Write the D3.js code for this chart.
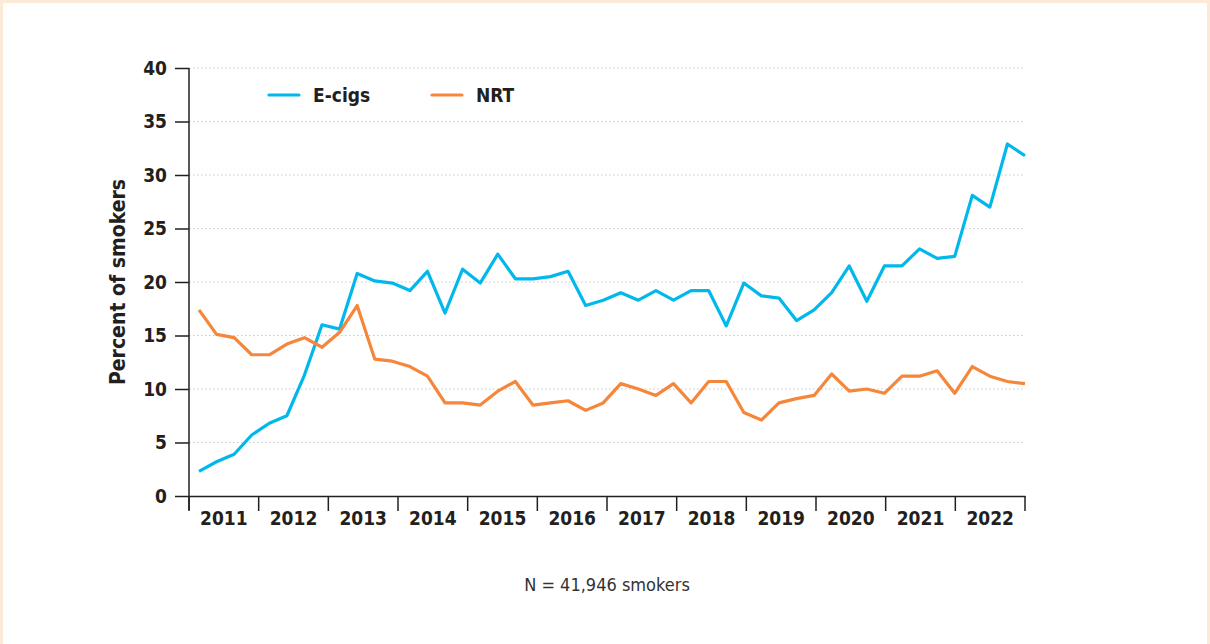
<!DOCTYPE html>
<html>
<head>
<meta charset="utf-8">
<script src="https://cdn.jsdelivr.net/npm/d3@7"></script>
<style>
  html, body { margin: 0; padding: 0; background: #fde9d7; }
  .frame { position: absolute; left: 3px; top: 3px; width: 1204px; height: 641px; background: #fff; }
  svg { position: absolute; left: 0; top: 0; }
  text { font-family: "DejaVu Sans Condensed", "DejaVu Sans", sans-serif; font-stretch: condensed; fill: #231f20; }
</style>
</head>
<body>
<div class="frame"></div>
<div class="chart"></div>
<script>
// 年ラベル
const years = ["2011","2012","2013","2014","2015","2016","2017","2018","2019","2020","2021","2022"];
const yTicks = [0, 5, 10, 15, 20, 25, 30, 35, 40];

// 四半期ごとの値 (2011Q1 - 2022Q4)
const ecigs = [2.3, 3.2, 3.9, 5.7, 6.8, 7.5, 11.3, 16.0, 15.6, 20.8, 20.1, 19.9,
               19.2, 21.0, 17.1, 21.2, 19.9, 22.6, 20.3, 20.3, 20.5, 21.0, 17.8, 18.3,
               19.0, 18.3, 19.2, 18.3, 19.2, 19.2, 15.9, 19.9, 18.7, 18.5, 16.4, 17.4,
               19.0, 21.5, 18.2, 21.5, 21.5, 23.1, 22.2, 22.4, 28.1, 27.0, 32.9, 31.8];
const nrt   = [17.4, 15.1, 14.8, 13.2, 13.2, 14.2, 14.8, 13.9, 15.3, 17.8, 12.8, 12.6,
               12.1, 11.2, 8.7, 8.7, 8.5, 9.8, 10.7, 8.5, 8.7, 8.9, 8.0, 8.7,
               10.5, 10.0, 9.4, 10.5, 8.7, 10.7, 10.7, 7.8, 7.1, 8.7, 9.1, 9.4,
               11.4, 9.8, 10.0, 9.6, 11.2, 11.2, 11.7, 9.6, 12.1, 11.2, 10.7, 10.5];

const series = [
    { name: "E-cigs", values: ecigs, color: "#00b8ec" },
    { name: "NRT", values: nrt, color: "#f5863a" }
];

const margin = { top: 68, right: 185, bottom: 148, left: 189 };
const width = 1210 - margin.left - margin.right;
const height = 644 - margin.top - margin.bottom;

const svg = d3.select(".chart")
    .append("svg")
    .attr("width", 1210)
    .attr("height", 644)
    .append("g")
    .attr("transform", `translate(${margin.left},${margin.top})`);

// スケール
const x = d3.scaleBand().domain(years).range([0, width]).padding(0);
const xi = d3.scaleLinear().domain([0, ecigs.length - 1]).range([10, width]);
const y = d3.scaleLinear().domain([0, 40]).range([height, 0]);

// グリッド線
svg.selectAll(".grid")
    .data(yTicks.filter(d => d > 0))
    .enter()
    .append("line")
    .attr("class", "grid")
    .attr("x1", 0)
    .attr("x2", width)
    .attr("y1", d => y(d))
    .attr("y2", d => y(d))
    .attr("stroke", "#c8c8c8")
    .attr("stroke-width", 1)
    .attr("stroke-dasharray", "1.5,2.5");

// Y軸
const yAxis = svg.append("g")
    .call(d3.axisLeft(y).tickValues(yTicks).tickSize(14).tickPadding(8));
yAxis.select(".domain").attr("stroke", "#231f20").attr("stroke-width", 1.5).attr("d", `M0,${height + 14}V0`);
yAxis.selectAll(".tick line").attr("stroke", "#231f20").attr("stroke-width", 1.5);
yAxis.selectAll("text").style("font-size", "19px").style("font-weight", "bold");

// X軸
const xAxis = svg.append("g")
    .attr("transform", `translate(0,${height})`)
    .call(d3.axisBottom(x).tickSize(0).tickPadding(16));
xAxis.select(".domain").attr("stroke", "#231f20").attr("stroke-width", 1.5);
xAxis.selectAll("text").style("font-size", "19px").style("font-weight", "bold");
xAxis.selectAll(".year-tick")
    .data(years.concat(["end"]))
    .enter()
    .append("line")
    .attr("class", "year-tick")
    .attr("x1", (d, i) => i * x.bandwidth())
    .attr("x2", (d, i) => i * x.bandwidth())
    .attr("y1", 0)
    .attr("y2", 15)
    .attr("stroke", "#231f20")
    .attr("stroke-width", 1.5);

// 軸タイトル
svg.append("text")
    .attr("transform", `translate(${-64},${height / 2}) rotate(-90)`)
    .attr("text-anchor", "middle")
    .style("font-size", "21px")
    .style("font-weight", "bold")
    .text("Percent of smokers");

// 折れ線
const line = d3.line()
    .x((d, i) => xi(i))
    .y(d => y(d));

svg.selectAll(".series")
    .data(series)
    .enter()
    .append("path")
    .attr("class", "series")
    .attr("fill", "none")
    .attr("stroke", d => d.color)
    .attr("stroke-width", 3.2)
    .attr("stroke-linejoin", "round")
    .attr("d", d => line(d.values));

// 凡例
const legendX = [80, 243];
const legend = svg.selectAll(".legend")
    .data(series)
    .enter()
    .append("g")
    .attr("class", "legend")
    .attr("transform", (d, i) => `translate(${legendX[i]},${27})`);
legend.append("line")
    .attr("x1", 0).attr("x2", 30)
    .attr("stroke", d => d.color)
    .attr("stroke-width", 3.2)
    .attr("stroke-linecap", "round");
legend.append("text")
    .attr("x", 44)
    .attr("dy", "0.35em")
    .style("font-size", "19px")
    .style("font-weight", "bold")
    .text(d => d.name);

// 注記
svg.append("text")
    .attr("x", 418)
    .attr("y", height + 95)
    .attr("text-anchor", "middle")
    .style("font-size", "18px")
    .style("fill", "#333")
    .text("N = 41,946 smokers");
</script>
</body>
</html>
